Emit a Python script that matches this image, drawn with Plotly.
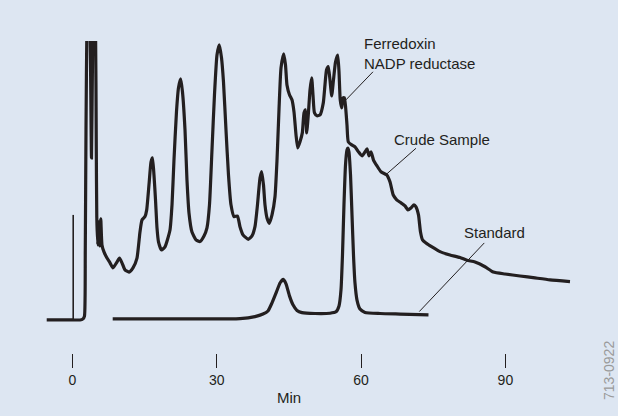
import plotly.graph_objects as go

# crude sample trace (minutes, absorbance in arbitrary units; values > 1 run off scale)
crude_min = [-5.36, 0.06, 1.56, 2.18, 2.49, 2.66, 2.81, 3.01, 3.43, 3.74, 3.95, 4.16, 4.37, 4.78,
             4.95, 5.05, 5.24, 5.47, 5.68, 5.88, 6.13, 6.55, 7.17, 7.80, 8.42, 9.15, 9.77, 10.29,
             10.91, 11.75, 12.58, 13.41, 14.03, 14.45, 15.07, 15.43, 15.90, 16.32, 16.63, 16.94,
             17.26, 17.57, 17.88, 18.50, 19.23, 20.27, 20.69, 21.10, 21.62, 22.04, 22.49, 22.87,
             23.39, 23.80, 24.22, 24.84, 25.68, 26.51, 27.34, 27.96, 28.48, 29.00, 29.52, 30.04,
             30.52, 30.98, 31.39, 31.91, 32.43, 32.95, 33.58, 34.30, 34.82, 35.45, 36.55, 37.32,
             37.94, 38.46, 38.98, 39.33, 39.71, 40.02, 40.44, 40.91, 41.48, 42.10, 42.52, 42.93,
             43.35, 43.91, 44.28, 44.59, 45.11, 45.63, 46.05, 46.47, 46.82, 47.30, 47.78, 48.13,
             48.44, 48.69, 49.02, 49.38, 49.73, 50.00, 50.31, 50.83, 51.46, 52.14, 52.49, 52.81,
             53.18, 53.53, 53.89, 54.26, 54.68, 55.14, 55.41, 55.66, 55.97, 56.24, 56.51, 56.76,
             57.07, 57.34, 58.05, 58.73, 59.42, 60.19, 60.81, 61.23, 61.64, 62.06, 62.58, 63.31,
             64.14, 65.32, 66.01, 66.69, 67.40, 68.30, 69.13, 69.75, 70.37, 71.00, 71.41, 71.93,
             72.35, 72.77, 73.49, 74.74, 76.40, 78.48, 80.56, 82.02, 83.68, 85.76, 87.48, 89.92,
             93.04, 96.15, 99.27, 103.43]
crude_abs = [0, 0, 0, 0.004, 0.014, 0.25, 0.679, 1.07, 1.32, 0.93, 0.579, 0.93, 1.32, 1.07,
             0.607, 0.368, 0.268, 0.35, 0.264, 0.361, 0.268, 0.243, 0.221, 0.204, 0.186, 0.204,
             0.221, 0.204, 0.179, 0.171, 0.186, 0.221, 0.314, 0.357, 0.369, 0.393, 0.482, 0.564,
             0.579, 0.518, 0.429, 0.329, 0.279, 0.25, 0.261, 0.321, 0.411, 0.571, 0.743, 0.829,
             0.861, 0.814, 0.679, 0.5, 0.382, 0.314, 0.286, 0.28, 0.3, 0.329, 0.411, 0.607, 0.804,
             0.946, 0.982, 0.936, 0.85, 0.679, 0.518, 0.411, 0.369, 0.371, 0.333, 0.304, 0.288,
             0.3, 0.333, 0.411, 0.507, 0.53, 0.482, 0.411, 0.364, 0.345, 0.375, 0.44, 0.571, 0.75,
             0.9, 0.95, 0.911, 0.839, 0.804, 0.786, 0.743, 0.661, 0.614, 0.636, 0.668, 0.739,
             0.75, 0.668, 0.732, 0.821, 0.864, 0.804, 0.739, 0.729, 0.732, 0.775, 0.839, 0.893,
             0.905, 0.857, 0.8, 0.857, 0.921, 0.946, 0.886, 0.786, 0.757, 0.793, 0.793, 0.764,
             0.696, 0.636, 0.625, 0.618, 0.601, 0.586, 0.6, 0.611, 0.586, 0.6, 0.571, 0.55,
             0.529, 0.518, 0.493, 0.446, 0.429, 0.418, 0.407, 0.393, 0.4, 0.411, 0.404, 0.375,
             0.314, 0.286, 0.275, 0.261, 0.244, 0.232, 0.223, 0.213, 0.207, 0.19, 0.171, 0.164,
             0.157, 0.15, 0.143, 0.137]

# injection mark
inject_min = [0.15, 0.15]
inject_abs = [0, 0.375]

# standard trace
std_min = [8.36, 22.35, 34.82, 37.94, 39.60, 40.64, 41.48, 42.41, 43.14, 43.83, 44.39, 45.11,
           45.84, 46.67, 47.71, 50.42, 53.53, 54.78, 55.41, 55.82, 56.13, 56.44, 56.76, 57.07,
           57.24, 57.48, 57.80, 58.11, 58.42, 58.73, 59.15, 59.77, 60.81, 63.93, 68.09, 74.01]
std_abs = [0.004, 0.004, 0.005, 0.012, 0.021, 0.032, 0.061, 0.1, 0.132, 0.145, 0.129, 0.086,
           0.054, 0.034, 0.026, 0.023, 0.024, 0.029, 0.05, 0.107, 0.232, 0.411, 0.554, 0.607,
           0.614, 0.6, 0.518, 0.375, 0.232, 0.132, 0.071, 0.039, 0.027, 0.023, 0.021, 0.018]

tick_vals = [0, 30, 60, 90]

ink = '#231f20'
fondo = '#dde6f2'
fuente = 'Liberation Sans, Arial, sans-serif'

fig = go.Figure()
fig.add_trace(go.Scatter(x=crude_min, y=crude_abs, mode='lines',
                         line=dict(color=ink, width=3.2, shape='spline', smoothing=0.5),
                         hoverinfo='skip'))
fig.add_trace(go.Scatter(x=inject_min, y=inject_abs, mode='lines',
                         line=dict(color=ink, width=1.6), hoverinfo='skip'))
fig.add_trace(go.Scatter(x=std_min, y=std_abs, mode='lines',
                         line=dict(color=ink, width=3.2, shape='spline', smoothing=0.5),
                         hoverinfo='skip'))

# etiquetas con lineas guia
etiquetas = [
    ('Ferredoxin<br>NADP reductase', 60.12, 0.95, (62.47, 0.886), (56.86, 0.786)),
    ('Crude Sample', 66.36, 0.646, (71.41, 0.613), (65.32, 0.521)),
    ('Standard', 80.91, 0.3125, (85.61, 0.275), (72.10, 0.030)),
]
for texto, tx, ty, p0, p1 in etiquetas:
    fig.add_annotation(x=tx, y=ty, text=texto, showarrow=False, xanchor='left',
                       yanchor='middle', align='left',
                       font=dict(size=15, color=ink, family=fuente))
    fig.add_shape(type='line', x0=p0[0], y0=p0[1], x1=p1[0], y1=p1[1],
                  line=dict(color=ink, width=1))

fig.add_annotation(x=45, y=-0.144, xref='x', yref='paper', text='Min', showarrow=False,
                   xanchor='center', yanchor='middle',
                   font=dict(size=15, color=ink, family=fuente))
fig.add_annotation(x=0.9854, y=-0.0545, xref='paper', yref='paper', text='713-0922',
                   textangle=-90, showarrow=False, xanchor='center', yanchor='middle',
                   font=dict(size=14, color='#9a9a9a', family=fuente))

fig.update_layout(
    width=618, height=416,
    margin=dict(l=0, r=0, t=41, b=63),
    paper_bgcolor=fondo, plot_bgcolor=fondo,
    showlegend=False,
    xaxis=dict(range=[-15.07, 113.41], tickvals=tick_vals, ticks='outside', ticklen=14,
               tickwidth=1.2, tickcolor=ink, showgrid=False, zeroline=False, showline=False,
               tickfont=dict(size=14, color=ink, family=fuente)),
    yaxis=dict(range=[-0.118, 0.996], showticklabels=False, showgrid=False,
               zeroline=False, showline=False, ticks=''),
)

fig.write_html("out.html", config={'displayModeBar': False},
               post_script="document.body.style.margin='0';")
